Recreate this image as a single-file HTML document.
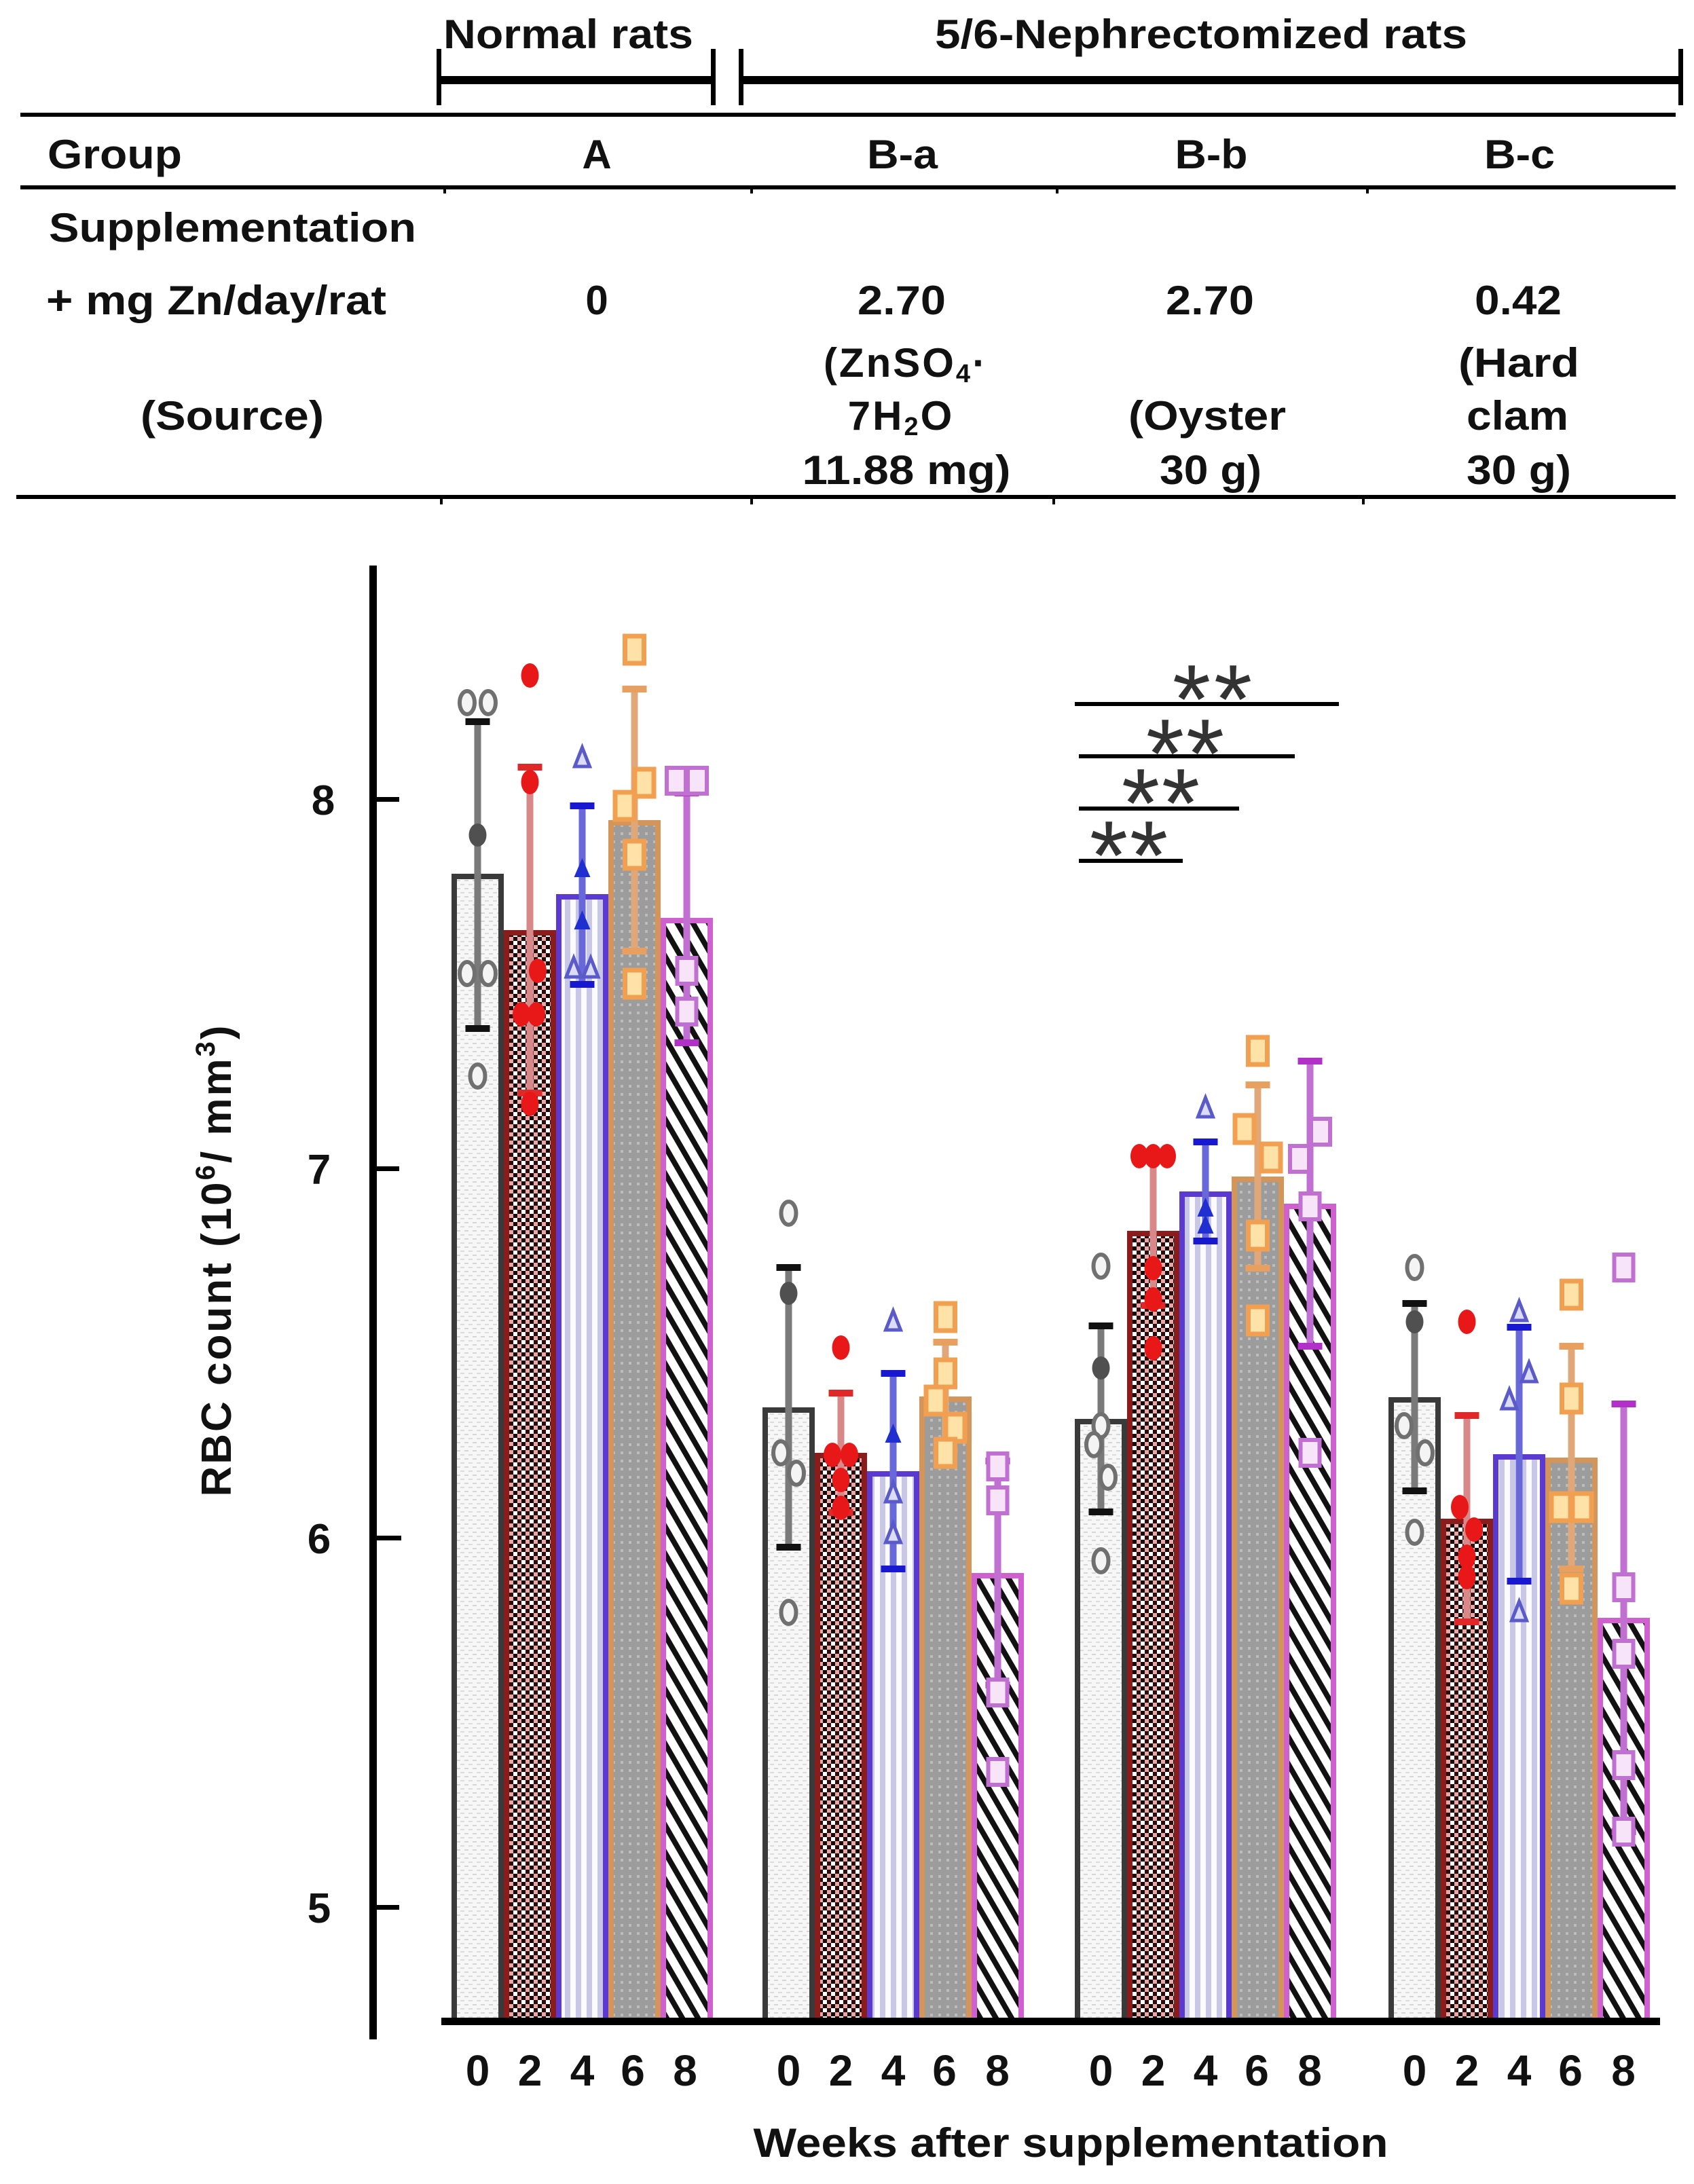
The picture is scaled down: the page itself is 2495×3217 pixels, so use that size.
<!DOCTYPE html>
<html><head><meta charset="utf-8"><style>
html,body{margin:0;padding:0;background:#fff;}
svg{display:block;}
text{font-family:"Liberation Sans",Arial,sans-serif;font-weight:bold;fill:#111;}
</style></head><body>
<svg width="2495" height="3217" viewBox="0 0 2495 3217" xmlns="http://www.w3.org/2000/svg">
<defs>
<pattern id="p0" width="12" height="12" patternUnits="userSpaceOnUse"><rect width="12" height="12" fill="#f7f7f7"/><rect x="0" y="0" width="6" height="2" fill="#d6d6d6"/><rect x="6" y="6" width="6" height="2" fill="#dcdcdc"/></pattern>
<pattern id="p1" width="12" height="12" patternUnits="userSpaceOnUse"><rect width="12" height="12" fill="#fff"/><rect x="0" y="0" width="6" height="6" fill="#1a0808"/><rect x="6" y="6" width="6" height="6" fill="#2a0c0c"/><rect x="6" y="0" width="6" height="6" fill="#e8a8a8"/></pattern>
<pattern id="p2" width="16" height="10" patternUnits="userSpaceOnUse"><rect width="16" height="10" fill="#fafaff"/><rect x="0" y="0" width="8" height="10" fill="#c8c8e6"/></pattern>
<pattern id="p3" width="12" height="12" patternUnits="userSpaceOnUse"><rect width="12" height="12" fill="#9c9c9c"/><rect x="2" y="2" width="4" height="4" fill="#bcbcbc"/></pattern>
<pattern id="p4" width="20" height="20" patternUnits="userSpaceOnUse" patternTransform="rotate(-30)"><rect width="20" height="20" fill="#fff"/><rect x="0" y="0" width="8" height="20" fill="#111"/></pattern>
<g id="oc"><ellipse cx="0" cy="0" rx="11" ry="17" fill="#f4f4f4" stroke="#707070" stroke-width="6"/></g>
<g id="fc"><ellipse cx="0" cy="0" rx="13" ry="17" fill="#505050"/></g>
<g id="rd"><ellipse cx="0" cy="0" rx="13" ry="18" fill="#e81818"/></g>
<g id="bt"><path d="M0,-16 L11,12 L-11,12 Z" fill="#dcdcf6" stroke="#5a5ac8" stroke-width="5"/></g>
<g id="bf"><path d="M0,-16 L12,12 L-12,12 Z" fill="#2030d0"/></g>
<g id="os"><rect x="-14" y="-20" width="28" height="40" fill="#ffe2a8" stroke="#f0a050" stroke-width="7"/></g>
<g id="ms"><rect x="-14" y="-19" width="28" height="38" fill="#f8e4f8" stroke="#c070d0" stroke-width="6"/></g>
</defs>
<rect width="2495" height="3217" fill="#fff"/>

<!-- header brackets -->
<text x="837" y="71" text-anchor="middle" font-size="60" textLength="368" lengthAdjust="spacingAndGlyphs">Normal rats</text>
<text x="1769" y="71" text-anchor="middle" font-size="60" textLength="784" lengthAdjust="spacingAndGlyphs">5/6-Nephrectomized rats</text>
<rect x="643" y="72" width="7" height="83" fill="#000"/>
<rect x="1047" y="72" width="7" height="83" fill="#000"/>
<rect x="643" y="112" width="411" height="12" fill="#000"/>
<rect x="1088" y="72" width="7" height="83" fill="#000"/>
<rect x="2472" y="72" width="7" height="83" fill="#000"/>
<rect x="1088" y="112" width="1391" height="12" fill="#000"/>

<!-- table rules -->
<rect x="30" y="166" width="2438" height="6" fill="#000"/>
<rect x="30" y="273" width="2438" height="6" fill="#000"/>
<rect x="653" y="279" width="4" height="6" fill="#000"/><rect x="1105" y="279" width="4" height="6" fill="#000"/><rect x="1555" y="279" width="4" height="6" fill="#000"/><rect x="2012" y="279" width="4" height="6" fill="#000"/>
<rect x="24" y="729" width="2444" height="6" fill="#000"/>
<rect x="648" y="735" width="4" height="8" fill="#000"/><rect x="1105" y="735" width="4" height="8" fill="#000"/><rect x="1550" y="735" width="4" height="8" fill="#000"/><rect x="2006" y="735" width="4" height="8" fill="#000"/>

<!-- table text -->
<text x="70" y="248" font-size="60" textLength="198" lengthAdjust="spacingAndGlyphs">Group</text>
<text x="879" y="248" text-anchor="middle" font-size="60">A</text>
<text x="1329" y="248" text-anchor="middle" font-size="60" textLength="104" lengthAdjust="spacingAndGlyphs">B-a</text>
<text x="1784" y="248" text-anchor="middle" font-size="60" textLength="107" lengthAdjust="spacingAndGlyphs">B-b</text>
<text x="2238" y="248" text-anchor="middle" font-size="60" textLength="104" lengthAdjust="spacingAndGlyphs">B-c</text>
<text x="72" y="356" font-size="60" textLength="541" lengthAdjust="spacingAndGlyphs">Supplementation</text>
<text x="68" y="463" font-size="60" textLength="501" lengthAdjust="spacingAndGlyphs">+ mg Zn/day/rat</text>
<text x="879" y="463" text-anchor="middle" font-size="60">0</text>
<text x="1328" y="463" text-anchor="middle" font-size="60" textLength="130" lengthAdjust="spacingAndGlyphs">2.70</text>
<text x="1782" y="463" text-anchor="middle" font-size="60" textLength="130" lengthAdjust="spacingAndGlyphs">2.70</text>
<text x="2236" y="463" text-anchor="middle" font-size="60" textLength="128" lengthAdjust="spacingAndGlyphs">0.42</text>
<text x="1334" y="555" text-anchor="middle" font-size="60" letter-spacing="3">(ZnSO<tspan font-size="38" dy="8">4</tspan><tspan dy="-8">·</tspan></text>
<text x="2237" y="555" text-anchor="middle" font-size="60" textLength="178" lengthAdjust="spacingAndGlyphs">(Hard</text>
<text x="342" y="633" text-anchor="middle" font-size="60" textLength="270" lengthAdjust="spacingAndGlyphs">(Source)</text>
<text x="1327" y="633" text-anchor="middle" font-size="60" letter-spacing="3">7H<tspan font-size="38" dy="8">2</tspan><tspan dy="-8">O</tspan></text>
<text x="1778" y="633" text-anchor="middle" font-size="60" textLength="232" lengthAdjust="spacingAndGlyphs">(Oyster</text>
<text x="2235" y="633" text-anchor="middle" font-size="60" textLength="150" lengthAdjust="spacingAndGlyphs">clam</text>
<text x="1335" y="713" text-anchor="middle" font-size="60" textLength="307" lengthAdjust="spacingAndGlyphs">11.88 mg)</text>
<text x="1783" y="713" text-anchor="middle" font-size="60" textLength="150" lengthAdjust="spacingAndGlyphs">30 g)</text>
<text x="2237" y="713" text-anchor="middle" font-size="60" textLength="154" lengthAdjust="spacingAndGlyphs">30 g)</text>

<!-- axis -->
<rect x="544" y="833" width="11" height="2171" fill="#000"/>
<rect x="555" y="1174" width="33" height="7" fill="#000"/>
<rect x="555" y="1718" width="33" height="7" fill="#000"/>
<rect x="555" y="2262" width="36" height="7" fill="#000"/>
<rect x="555" y="2806" width="33" height="7" fill="#000"/>
<text x="476" y="1200" text-anchor="middle" font-size="62">8</text>
<text x="470" y="1744" text-anchor="middle" font-size="62">7</text>
<text x="470" y="2288" text-anchor="middle" font-size="62">6</text>
<text x="470" y="2832" text-anchor="middle" font-size="62">5</text>
<text transform="translate(340,1856) rotate(-90)" text-anchor="middle" font-size="62" letter-spacing="3">RBC count (10<tspan font-size="40" dy="-24">6</tspan><tspan dy="24">/ mm</tspan><tspan font-size="40" dy="-24">3</tspan><tspan dy="24">)</tspan></text>

<!-- bars -->
<g stroke-width="8">
<rect x="669" y="1291" width="69" height="1686" fill="url(#p0)" stroke="#3a3a3a"/>
<rect x="746" y="1374" width="69" height="1603" fill="url(#p1)" stroke="#8a1c1c"/>
<rect x="823" y="1321" width="69" height="1656" fill="url(#p2)" stroke="#5a3ad0"/>
<rect x="900" y="1212" width="69" height="1765" fill="url(#p3)" stroke="#d4955a"/>
<rect x="977" y="1356" width="69" height="1621" fill="url(#p4)" stroke="#d060d0"/>

<rect x="1127" y="2077" width="69" height="900" fill="url(#p0)" stroke="#3a3a3a"/>
<rect x="1204" y="2144" width="69" height="833" fill="url(#p1)" stroke="#8a1c1c"/>
<rect x="1281" y="2171" width="69" height="806" fill="url(#p2)" stroke="#5a3ad0"/>
<rect x="1358" y="2061" width="69" height="916" fill="url(#p3)" stroke="#d4955a"/>
<rect x="1435" y="2321" width="69" height="656" fill="url(#p4)" stroke="#d060d0"/>

<rect x="1587" y="2094" width="69" height="883" fill="url(#p0)" stroke="#3a3a3a"/>
<rect x="1664" y="1817" width="69" height="1160" fill="url(#p1)" stroke="#8a1c1c"/>
<rect x="1741" y="1759" width="69" height="1218" fill="url(#p2)" stroke="#5a3ad0"/>
<rect x="1818" y="1737" width="69" height="1240" fill="url(#p3)" stroke="#d4955a"/>
<rect x="1895" y="1777" width="69" height="1200" fill="url(#p4)" stroke="#d060d0"/>

<rect x="2049" y="2062" width="69" height="915" fill="url(#p0)" stroke="#3a3a3a"/>
<rect x="2126" y="2241" width="69" height="736" fill="url(#p1)" stroke="#8a1c1c"/>
<rect x="2203" y="2146" width="69" height="831" fill="url(#p2)" stroke="#5a3ad0"/>
<rect x="2280" y="2151" width="69" height="826" fill="url(#p3)" stroke="#d4955a"/>
<rect x="2357" y="2387" width="69" height="590" fill="url(#p4)" stroke="#d060d0"/>
</g>

<!-- error bars -->
<g stroke-width="10">
<line x1="703.5" y1="1063" x2="703.5" y2="1515" stroke="#7a7a7a"/>
<line x1="780.5" y1="1130" x2="780.5" y2="1610" stroke="#d88888"/>
<line x1="857.5" y1="1187" x2="857.5" y2="1450" stroke="#6868d8"/>
<line x1="934.5" y1="1015" x2="934.5" y2="1401" stroke="#e0a878"/>
<line x1="1011.5" y1="1168" x2="1011.5" y2="1536" stroke="#c070d0"/>

<line x1="1161.5" y1="1867" x2="1161.5" y2="2279" stroke="#7a7a7a"/>
<line x1="1238.5" y1="2052" x2="1238.5" y2="2228" stroke="#d88888"/>
<line x1="1315.5" y1="2023" x2="1315.5" y2="2311" stroke="#6868d8"/>
<line x1="1392.5" y1="1977" x2="1392.5" y2="2137" stroke="#e0a878"/>
<line x1="1469.5" y1="2152" x2="1469.5" y2="2482" stroke="#c070d0"/>

<line x1="1621.5" y1="1953" x2="1621.5" y2="2227" stroke="#7a7a7a"/>
<line x1="1698.5" y1="1703" x2="1698.5" y2="1923" stroke="#d88888"/>
<line x1="1775.5" y1="1682" x2="1775.5" y2="1828" stroke="#6868d8"/>
<line x1="1852.5" y1="1598" x2="1852.5" y2="1868" stroke="#e0a878"/>
<line x1="1929.5" y1="1563" x2="1929.5" y2="1983" stroke="#c070d0"/>

<line x1="2083.5" y1="1920" x2="2083.5" y2="2196" stroke="#7a7a7a"/>
<line x1="2160.5" y1="2085" x2="2160.5" y2="2389" stroke="#d88888"/>
<line x1="2237.5" y1="1955" x2="2237.5" y2="2329" stroke="#6868d8"/>
<line x1="2314.5" y1="1983" x2="2314.5" y2="2311" stroke="#e0a878"/>
<line x1="2391.5" y1="2068" x2="2391.5" y2="2698" stroke="#c070d0"/>
</g>
<!-- caps -->
<g>
<rect x="685.5" y="1058" width="36" height="10" fill="#111"/><rect x="685.5" y="1510" width="36" height="10" fill="#111"/>
<rect x="762.5" y="1125" width="36" height="10" fill="#e02828"/><rect x="762.5" y="1605" width="36" height="10" fill="#e02828"/>
<rect x="839.5" y="1182" width="36" height="10" fill="#1818d0"/><rect x="839.5" y="1445" width="36" height="10" fill="#1818d0"/>
<rect x="916.5" y="1010" width="36" height="10" fill="#e8a060"/><rect x="916.5" y="1396" width="36" height="10" fill="#e8a060"/>
<rect x="993.5" y="1163" width="36" height="10" fill="#b030c8"/><rect x="993.5" y="1531" width="36" height="10" fill="#b030c8"/>

<rect x="1143.5" y="1862" width="36" height="10" fill="#111"/><rect x="1143.5" y="2274" width="36" height="10" fill="#111"/>
<rect x="1220.5" y="2047" width="36" height="10" fill="#e02828"/><rect x="1220.5" y="2223" width="36" height="10" fill="#e02828"/>
<rect x="1297.5" y="2018" width="36" height="10" fill="#1818d0"/><rect x="1297.5" y="2306" width="36" height="10" fill="#1818d0"/>
<rect x="1374.5" y="1972" width="36" height="10" fill="#e8a060"/><rect x="1374.5" y="2132" width="36" height="10" fill="#e8a060"/>
<rect x="1451.5" y="2147" width="36" height="10" fill="#b030c8"/><rect x="1451.5" y="2477" width="36" height="10" fill="#b030c8"/>

<rect x="1603.5" y="1948" width="36" height="10" fill="#111"/><rect x="1603.5" y="2222" width="36" height="10" fill="#111"/>
<rect x="1680.5" y="1698" width="36" height="10" fill="#e02828"/><rect x="1680.5" y="1918" width="36" height="10" fill="#e02828"/>
<rect x="1757.5" y="1677" width="36" height="10" fill="#1818d0"/><rect x="1757.5" y="1823" width="36" height="10" fill="#1818d0"/>
<rect x="1834.5" y="1593" width="36" height="10" fill="#e8a060"/><rect x="1834.5" y="1863" width="36" height="10" fill="#e8a060"/>
<rect x="1911.5" y="1558" width="36" height="10" fill="#b030c8"/><rect x="1911.5" y="1978" width="36" height="10" fill="#b030c8"/>

<rect x="2065.5" y="1915" width="36" height="10" fill="#111"/><rect x="2065.5" y="2191" width="36" height="10" fill="#111"/>
<rect x="2142.5" y="2080" width="36" height="10" fill="#e02828"/><rect x="2142.5" y="2384" width="36" height="10" fill="#e02828"/>
<rect x="2219.5" y="1950" width="36" height="10" fill="#1818d0"/><rect x="2219.5" y="2324" width="36" height="10" fill="#1818d0"/>
<rect x="2296.5" y="1978" width="36" height="10" fill="#e8a060"/><rect x="2296.5" y="2306" width="36" height="10" fill="#e8a060"/>
<rect x="2373.5" y="2063" width="36" height="10" fill="#b030c8"/><rect x="2373.5" y="2693" width="36" height="10" fill="#b030c8"/>
</g>

<!-- points group A -->
<use href="#oc" x="688" y="1035"/><use href="#oc" x="719" y="1035"/><use href="#fc" x="703.5" y="1230"/><use href="#oc" x="688" y="1434"/><use href="#oc" x="719" y="1434"/><use href="#oc" x="703.5" y="1585"/>
<use href="#rd" x="780.5" y="995"/><use href="#rd" x="780.5" y="1152"/><use href="#rd" x="792" y="1430"/><use href="#rd" x="768" y="1494"/><use href="#rd" x="790" y="1494"/><use href="#rd" x="780.5" y="1626"/>
<use href="#bt" x="857.5" y="1117"/><use href="#bf" x="857.5" y="1280"/><use href="#bf" x="857.5" y="1357"/><use href="#bt" x="845" y="1427"/><use href="#bt" x="870" y="1427"/>
<use href="#os" x="934.5" y="957"/><use href="#os" x="949" y="1153"/><use href="#os" x="920" y="1187"/><use href="#os" x="934.5" y="1259"/><use href="#os" x="934.5" y="1449"/>
<use href="#ms" x="996" y="1150"/><use href="#ms" x="1027" y="1150"/><use href="#ms" x="1011.5" y="1430"/><use href="#ms" x="1011.5" y="1490"/>

<!-- points group B-a -->
<use href="#oc" x="1161.5" y="1787"/><use href="#fc" x="1161.5" y="1905"/><use href="#oc" x="1150" y="2140"/><use href="#oc" x="1173" y="2170"/><use href="#oc" x="1161.5" y="2375"/>
<use href="#rd" x="1238.5" y="1985"/><use href="#rd" x="1226" y="2143"/><use href="#rd" x="1251" y="2143"/><use href="#rd" x="1238.5" y="2180"/><use href="#rd" x="1238.5" y="2221"/>
<use href="#bt" x="1315.5" y="1947"/><use href="#bf" x="1315.5" y="2113"/><use href="#bt" x="1315.5" y="2200"/><use href="#bt" x="1315.5" y="2260"/>
<use href="#os" x="1392.5" y="1940"/><use href="#os" x="1392.5" y="2023"/><use href="#os" x="1378" y="2063"/><use href="#os" x="1407" y="2103"/><use href="#os" x="1392.5" y="2140"/>
<use href="#ms" x="1469.5" y="2160"/><use href="#ms" x="1469.5" y="2210"/><use href="#ms" x="1469.5" y="2493"/><use href="#ms" x="1469.5" y="2610"/>

<!-- points group B-b -->
<use href="#oc" x="1621.5" y="1865"/><use href="#fc" x="1621.5" y="2015"/><use href="#oc" x="1621.5" y="2100"/><use href="#oc" x="1611" y="2128"/><use href="#oc" x="1632" y="2176"/><use href="#oc" x="1621.5" y="2299"/>
<use href="#rd" x="1678" y="1703"/><use href="#rd" x="1698.5" y="1703"/><use href="#rd" x="1719" y="1703"/><use href="#rd" x="1698.5" y="1868"/><use href="#rd" x="1698.5" y="1914"/><use href="#rd" x="1698.5" y="1986"/>
<use href="#bt" x="1775.5" y="1633"/><use href="#bf" x="1775.5" y="1780"/><use href="#bf" x="1775.5" y="1805"/>
<use href="#os" x="1852.5" y="1548"/><use href="#os" x="1833" y="1663"/><use href="#os" x="1872" y="1705"/><use href="#os" x="1852.5" y="1820"/><use href="#os" x="1852.5" y="1945"/>
<use href="#ms" x="1945" y="1667"/><use href="#ms" x="1914" y="1707"/><use href="#ms" x="1929.5" y="1777"/><use href="#ms" x="1929.5" y="2140"/>

<!-- points group B-c -->
<use href="#oc" x="2083.5" y="1867"/><use href="#fc" x="2083.5" y="1947"/><use href="#oc" x="2068" y="2100"/><use href="#oc" x="2099" y="2140"/><use href="#oc" x="2083.5" y="2257"/>
<use href="#rd" x="2160.5" y="1947"/><use href="#rd" x="2150" y="2220"/><use href="#rd" x="2171" y="2253"/><use href="#rd" x="2160.5" y="2293"/><use href="#rd" x="2160.5" y="2323"/>
<use href="#bt" x="2237.5" y="1933"/><use href="#bt" x="2252" y="2023"/><use href="#bt" x="2223" y="2063"/><use href="#bt" x="2237.5" y="2375"/>
<use href="#os" x="2314.5" y="1907"/><use href="#os" x="2314.5" y="2060"/><use href="#os" x="2299" y="2220"/><use href="#os" x="2330" y="2220"/><use href="#os" x="2314.5" y="2340"/>
<use href="#ms" x="2391.5" y="1867"/><use href="#ms" x="2391.5" y="2338"/><use href="#ms" x="2391.5" y="2436"/><use href="#ms" x="2391.5" y="2600"/><use href="#ms" x="2391.5" y="2698"/>

<!-- baseline -->
<rect x="650" y="2972" width="1795" height="11" fill="#000"/>

<!-- significance -->
<rect x="1583" y="1034" width="389" height="6" fill="#000"/>
<rect x="1589" y="1111" width="318" height="6" fill="#000"/>
<rect x="1589" y="1188" width="236" height="6" fill="#000"/>
<rect x="1589" y="1265" width="153" height="6" fill="#000"/>
<g font-size="145">
<text x="1755" y="1080" text-anchor="middle" style="font-weight:normal;fill:#333">*</text>
<text x="1816" y="1080" text-anchor="middle" style="font-weight:normal;fill:#333">*</text>
<text x="1716" y="1160" text-anchor="middle" style="font-weight:normal;fill:#333">*</text>
<text x="1775" y="1160" text-anchor="middle" style="font-weight:normal;fill:#333">*</text>
<text x="1680" y="1233" text-anchor="middle" style="font-weight:normal;fill:#333">*</text>
<text x="1739" y="1233" text-anchor="middle" style="font-weight:normal;fill:#333">*</text>
<text x="1633" y="1310" text-anchor="middle" style="font-weight:normal;fill:#333">*</text>
<text x="1692" y="1310" text-anchor="middle" style="font-weight:normal;fill:#333">*</text>
</g>

<!-- x labels -->
<g font-size="64" text-anchor="middle">
<text x="703.5" y="3072">0</text><text x="780.5" y="3072">2</text><text x="857.5" y="3072">4</text><text x="932" y="3072">6</text><text x="1009" y="3072">8</text>
<text x="1161.5" y="3072">0</text><text x="1238.5" y="3072">2</text><text x="1315.5" y="3072">4</text><text x="1391" y="3072">6</text><text x="1469" y="3072">8</text>
<text x="1621.5" y="3072">0</text><text x="1698.5" y="3072">2</text><text x="1775.5" y="3072">4</text><text x="1851" y="3072">6</text><text x="1929" y="3072">8</text>
<text x="2083.5" y="3072">0</text><text x="2160.5" y="3072">2</text><text x="2237.5" y="3072">4</text><text x="2313" y="3072">6</text><text x="2391" y="3072">8</text>
</g>
<text x="1577" y="3177" text-anchor="middle" font-size="60" textLength="935" lengthAdjust="spacingAndGlyphs">Weeks after supplementation</text>
</svg>
</body></html>
